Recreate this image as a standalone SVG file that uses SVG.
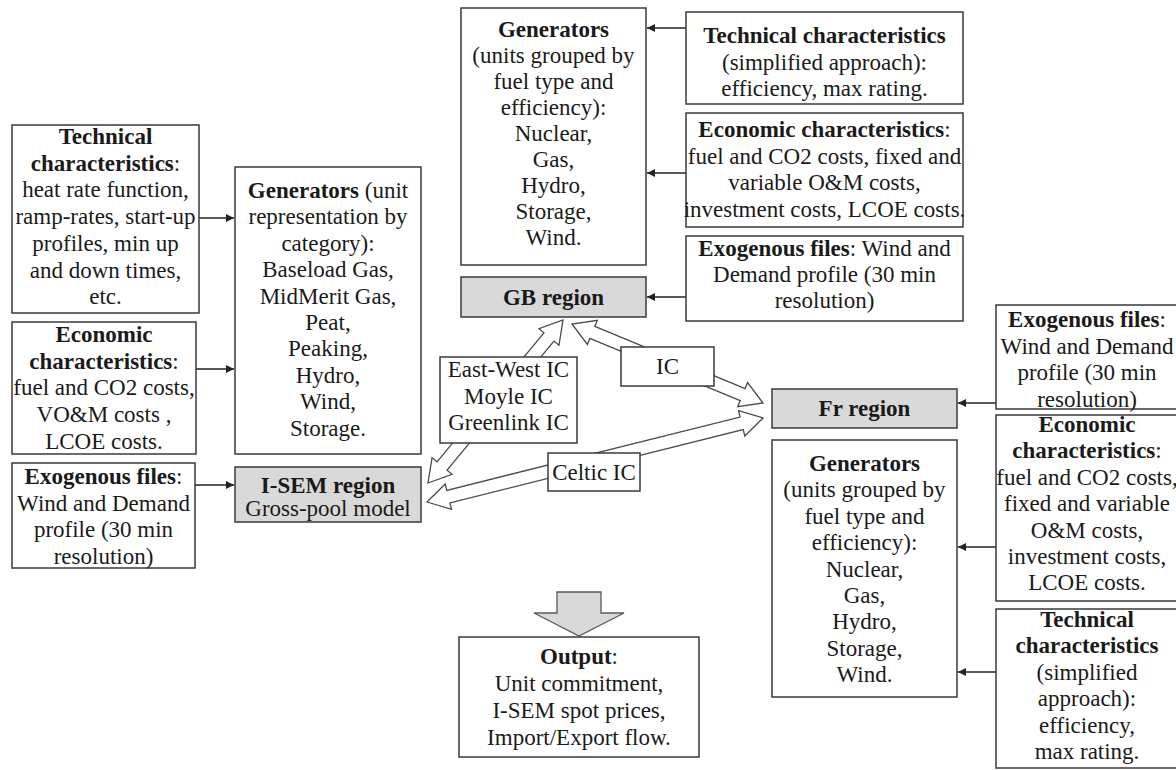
<svg xmlns="http://www.w3.org/2000/svg" width="1176" height="770" viewBox="0 0 1176 770" font-family="'Liberation Serif', 'Times New Roman', Tinos, 'DejaVu Serif', serif">
<defs>
<style>
.box{fill:#fff;stroke:#3a3a3a;stroke-width:1.5}
.reg{fill:#d9d9d9;stroke:#3a3a3a;stroke-width:1.5}
.blk{fill:#fff;stroke:#4a4a4a;stroke-width:1.3;stroke-linejoin:miter}
.con{stroke:#222;stroke-width:1.3;fill:none}
text{font-family:'Liberation Serif','Times New Roman',Tinos,'DejaVu Serif',serif;font-size:23px;fill:#1a1a1a;text-anchor:middle}
.b{font-weight:bold}
</style>
<marker id="ah" viewBox="0 0 10 10" refX="10" refY="5" markerWidth="10" markerHeight="8" markerUnits="userSpaceOnUse" orient="auto">
<path d="M0,0 L10,5 L0,10 z" fill="#222"/>
</marker>
</defs>
<rect width="1176" height="770" fill="#fff"/>

<g id="connectors">
<line class="con" x1="199" y1="218" x2="234" y2="218" marker-end="url(#ah)"/>
<line class="con" x1="196" y1="369" x2="234" y2="369" marker-end="url(#ah)"/>
<line class="con" x1="195" y1="485" x2="234" y2="485" marker-end="url(#ah)"/>
<line class="con" x1="686" y1="28" x2="647" y2="28" marker-end="url(#ah)"/>
<line class="con" x1="686" y1="173" x2="647" y2="173" marker-end="url(#ah)"/>
<line class="con" x1="686" y1="297" x2="647" y2="297" marker-end="url(#ah)"/>
<line class="con" x1="996" y1="403" x2="958" y2="403" marker-end="url(#ah)"/>
<line class="con" x1="996" y1="547" x2="958" y2="547" marker-end="url(#ah)"/>
<line class="con" x1="996" y1="672" x2="958" y2="672" marker-end="url(#ah)"/>
<polygon class="blk" points="428,483 452.05,474.35 447.04,470.21 553.96,341.09 558.97,345.23 563,320 538.95,328.65 543.96,332.79 437.04,461.91 432.03,457.77"/>
<polygon class="blk" points="572,324 587.36,344.41 589.85,338.41 740.19,400.61 737.7,406.61 763,403 747.64,382.59 745.15,388.59 594.81,326.39 597.3,320.39"/>
<polygon class="blk" points="427,502 451.49,509.27 449.92,502.97 743.24,429.65 744.81,435.95 763,418 738.51,410.73 740.08,417.03 446.76,490.35 445.19,484.05"/>
<polygon points="557,592 601,592 601,613 624,613 579,636 534,613 557,613" fill="#d9d9d9" stroke="#595959" stroke-width="1.3"/>
</g>

<g id="isem-tech">
<rect class="box" x="12" y="125" width="187" height="188"/>
<text x="105.5" y="144"><tspan class="b">Technical</tspan><tspan x="105.5" dy="26.7"><tspan class="b">characteristics</tspan>:</tspan><tspan x="105.5" dy="26.7">heat rate function,</tspan><tspan x="105.5" dy="26.7">ramp-rates, start-up</tspan><tspan x="105.5" dy="26.7">profiles, min up</tspan><tspan x="105.5" dy="26.7">and down times,</tspan><tspan x="105.5" dy="26.7">etc.</tspan></text>
</g>

<g id="isem-econ">
<rect class="box" x="12" y="322" width="184" height="132"/>
<text x="104" y="342"><tspan class="b">Economic</tspan><tspan x="104" dy="26.7"><tspan class="b">characteristics</tspan>:</tspan><tspan x="104" dy="26.7">fuel and CO2 costs,</tspan><tspan x="104" dy="26.7">VO&amp;M costs ,</tspan><tspan x="104" dy="26.7">LCOE costs.</tspan></text>
</g>

<g id="isem-exo">
<rect class="box" x="12" y="463" width="183" height="105"/>
<text x="103.5" y="484"><tspan class="b">Exogenous files</tspan>:<tspan x="103.5" dy="26.7">Wind and Demand</tspan><tspan x="103.5" dy="26.7">profile (30 min</tspan><tspan x="103.5" dy="26.7">resolution)</tspan></text>
</g>

<g id="isem-gen">
<rect class="box" x="235" y="167" width="186" height="287"/>
<text x="328" y="198"><tspan class="b">Generators</tspan> (unit<tspan x="328" dy="26.4">representation by</tspan><tspan x="328" dy="26.4">category):</tspan><tspan x="328" dy="26.4">Baseload Gas,</tspan><tspan x="328" dy="26.4">MidMerit Gas,</tspan><tspan x="328" dy="26.4">Peat,</tspan><tspan x="328" dy="26.4">Peaking,</tspan><tspan x="328" dy="26.4">Hydro,</tspan><tspan x="328" dy="26.4">Wind,</tspan><tspan x="328" dy="26.4">Storage.</tspan></text>
</g>

<g id="isem-region">
<rect class="reg" x="235" y="467" width="186" height="55"/>
<text x="328" y="493"><tspan class="b">I-SEM region</tspan><tspan x="328" dy="23">Gross-pool model</tspan></text>
</g>

<g id="gb-gen">
<rect class="box" x="461" y="8" width="185" height="257"/>
<text x="553.5" y="37"><tspan class="b">Generators</tspan><tspan x="553.5" dy="26">(units grouped by</tspan><tspan x="553.5" dy="26">fuel type and</tspan><tspan x="553.5" dy="26">efficiency):</tspan><tspan x="553.5" dy="26">Nuclear,</tspan><tspan x="553.5" dy="26">Gas,</tspan><tspan x="553.5" dy="26">Hydro,</tspan><tspan x="553.5" dy="26">Storage,</tspan><tspan x="553.5" dy="26">Wind.</tspan></text>
</g>

<g id="gb-region">
<rect class="reg" x="461" y="277" width="185" height="40"/>
<text class="b" x="553.5" y="305">GB region</text>
</g>

<g id="gb-tech">
<rect class="box" x="686" y="12" width="277" height="92"/>
<text x="824.5" y="43"><tspan class="b">Technical characteristics</tspan><tspan x="824.5" dy="26.5">(simplified approach):</tspan><tspan x="824.5" dy="26.5">efficiency, max rating.</tspan></text>
</g>

<g id="gb-econ">
<rect class="box" x="686" y="113" width="277" height="114"/>
<text x="824.5" y="137"><tspan class="b">Economic characteristics</tspan>:<tspan x="824.5" dy="26.7">fuel and CO2 costs, fixed and</tspan><tspan x="824.5" dy="26.7">variable O&amp;M costs,</tspan><tspan x="824.5" dy="26.7">investment costs, LCOE costs.</tspan></text>
</g>

<g id="gb-exo">
<rect class="box" x="686" y="236" width="277" height="85"/>
<text x="824.5" y="256"><tspan class="b">Exogenous files</tspan>: Wind and<tspan x="824.5" dy="26">Demand profile (30 min</tspan><tspan x="824.5" dy="26">resolution)</tspan></text>
</g>

<g id="ic-ew">
<rect class="box" x="440" y="357" width="137" height="86"/>
<text x="508.5" y="377"><tspan>East-West IC</tspan><tspan x="508.5" dy="26.5">Moyle IC</tspan><tspan x="508.5" dy="26.5">Greenlink IC</tspan></text>
</g>

<g id="ic-gbfr">
<rect class="box" x="621" y="347" width="93" height="39"/>
<text x="667.5" y="374">IC</text>
</g>

<g id="ic-celtic">
<rect class="box" x="548" y="453" width="92" height="38"/>
<text x="594" y="480">Celtic IC</text>
</g>

<g id="fr-region">
<rect class="reg" x="772" y="389" width="185" height="39"/>
<text class="b" x="864.5" y="416">Fr region</text>
</g>

<g id="fr-gen">
<rect class="box" x="772" y="440" width="185" height="257"/>
<text x="864.5" y="471"><tspan class="b">Generators</tspan><tspan x="864.5" dy="26.4">(units grouped by</tspan><tspan x="864.5" dy="26.4">fuel type and</tspan><tspan x="864.5" dy="26.4">efficiency):</tspan><tspan x="864.5" dy="26.4">Nuclear,</tspan><tspan x="864.5" dy="26.4">Gas,</tspan><tspan x="864.5" dy="26.4">Hydro,</tspan><tspan x="864.5" dy="26.4">Storage,</tspan><tspan x="864.5" dy="26.4">Wind.</tspan></text>
</g>

<g id="fr-exo">
<rect class="box" x="996" y="305" width="183" height="104"/>
<text x="1087" y="327"><tspan class="b">Exogenous files</tspan>:<tspan x="1087" dy="26.5">Wind and Demand</tspan><tspan x="1087" dy="26.5">profile (30 min</tspan><tspan x="1087" dy="26.5">resolution)</tspan></text>
</g>

<g id="fr-econ">
<rect class="box" x="996" y="415" width="183" height="186"/>
<text x="1087" y="432"><tspan class="b">Economic</tspan><tspan x="1087" dy="26.4"><tspan class="b">characteristics</tspan>:</tspan><tspan x="1087" dy="26.4">fuel and CO2 costs,</tspan><tspan x="1087" dy="26.4">fixed and variable</tspan><tspan x="1087" dy="26.4">O&amp;M costs,</tspan><tspan x="1087" dy="26.4">investment costs,</tspan><tspan x="1087" dy="26.4">LCOE costs.</tspan></text>
</g>

<g id="fr-tech">
<rect class="box" x="996" y="609" width="183" height="159"/>
<text x="1087" y="627"><tspan class="b">Technical</tspan><tspan class="b" x="1087" dy="26.4">characteristics</tspan><tspan x="1087" dy="26.4">(simplified</tspan><tspan x="1087" dy="26.4">approach):</tspan><tspan x="1087" dy="26.4">efficiency,</tspan><tspan x="1087" dy="26.4">max rating.</tspan></text>
</g>

<g id="output">
<rect class="box" x="459" y="637" width="240" height="120"/>
<text x="579" y="664"><tspan class="b">Output</tspan>:<tspan x="579" dy="27">Unit commitment,</tspan><tspan x="579" dy="27">I-SEM spot prices,</tspan><tspan x="579" dy="27">Import/Export flow.</tspan></text>
</g>
</svg>
